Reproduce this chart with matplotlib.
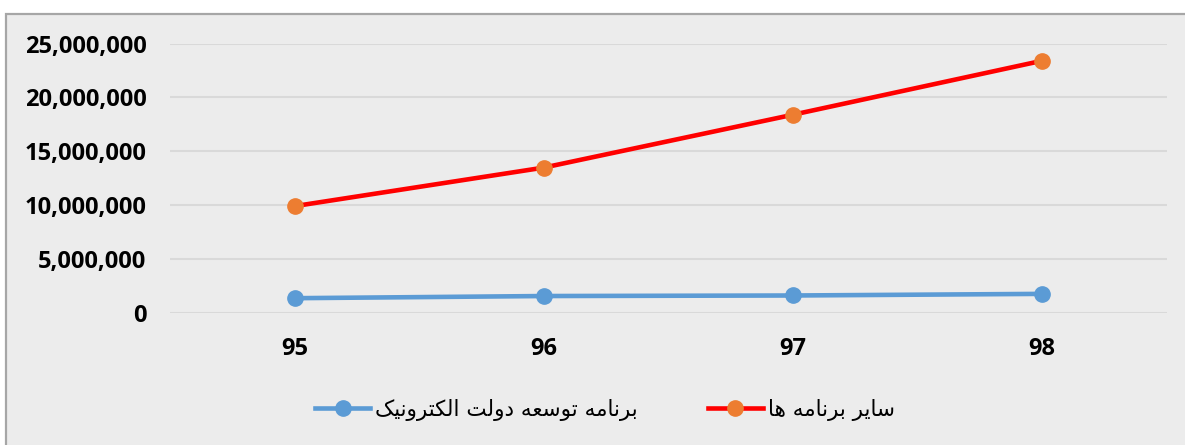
import numpy as np
import matplotlib
matplotlib.use('Agg')
import matplotlib.pyplot as plt
from matplotlib.patches import Rectangle
from matplotlib.ticker import FuncFormatter

years = ['95', '96', '97', '98']
egov = [1.40e6, 1.60e6, 1.65e6, 1.80e6]
others = [9.93e6, 13.5e6, 18.4e6, 23.4e6]

# persian labels, already shaped (presentation forms) and in visual order
label_egov = ('\uFB8F\uFEF4\uFEE7\uFEED\uFEAE\uFE98\uFB91\uFEDF\uFE8D '
              '\uFE96\uFEDF\uFEED\uFEA9 '
              '\uFEEA\uFECC\uFEB3\uFEEE\uFE97 '
              '\uFEEA\uFEE3\uFE8E\uFEE7\uFEAE\uFE91')
label_others = ('\uFE8E\uFEEB '
                '\uFEEA\uFEE3\uFE8E\uFEE7\uFEAE\uFE91 '
                '\uFEAE\uFEF3\uFE8E\uFEB3')

bg = '#ececec'
fig = plt.figure(figsize=(11.85, 4.45), dpi=100, facecolor='white')
# chart area frame (cut off at right and bottom)
fig.patches.append(Rectangle((6 / 1185, -0.05), 1.1, 1 - 14 / 445 + 0.05,
                             transform=fig.transFigure, facecolor=bg,
                             edgecolor='#a6a6a6', linewidth=1.6, zorder=-10))

ax = fig.add_axes([170 / 1185, 1 - 313.3 / 445, (1166.7 - 170) / 1185, (313.3 - 43.5) / 445])
ax.set_facecolor(bg)
x = np.arange(len(years))
ax.plot(x, egov, color='#5b9bd5', lw=3.3, marker='o', ms=11,
        mfc='#5b9bd5', mec='#5b9bd5', label=label_egov, zorder=3)
ax.plot(x, others, color='#ff0000', lw=3.3, marker='o', ms=11,
        mfc='#ed7d31', mec='#ed7d31', label=label_others, zorder=3)

ax.set_xlim(-0.5, 3.5)
ax.set_ylim(0, 25e6)
ax.set_yticks(np.arange(0, 25e6 + 1, 5e6))
ax.yaxis.set_major_formatter(FuncFormatter(lambda v, p: '{:,.0f}'.format(v)))
ax.set_xticks(x)
ax.set_xticklabels(years)
ax.grid(axis='y', color='#d9d9d9', lw=1.5)
ax.set_axisbelow(True)
for s in ax.spines.values():
    s.set_visible(False)
ax.tick_params(length=0)
ax.tick_params(axis='y', pad=17)
ax.tick_params(axis='x', pad=17)
for lab in ax.get_xticklabels() + ax.get_yticklabels():
    lab.set_fontfamily('Open Sans')
    lab.set_fontweight('bold')
    lab.set_fontsize(17)
    lab.set_color('black')

fig.legend(loc='center', bbox_to_anchor=(605 / 1185, 1 - 410 / 445), ncol=2,
           frameon=False, prop={'family': 'DejaVu Sans', 'size': 15.5},
           handlelength=2.55, handletextpad=0.23, columnspacing=3.25)

fig.savefig('out.png', dpi=100, facecolor='white')
